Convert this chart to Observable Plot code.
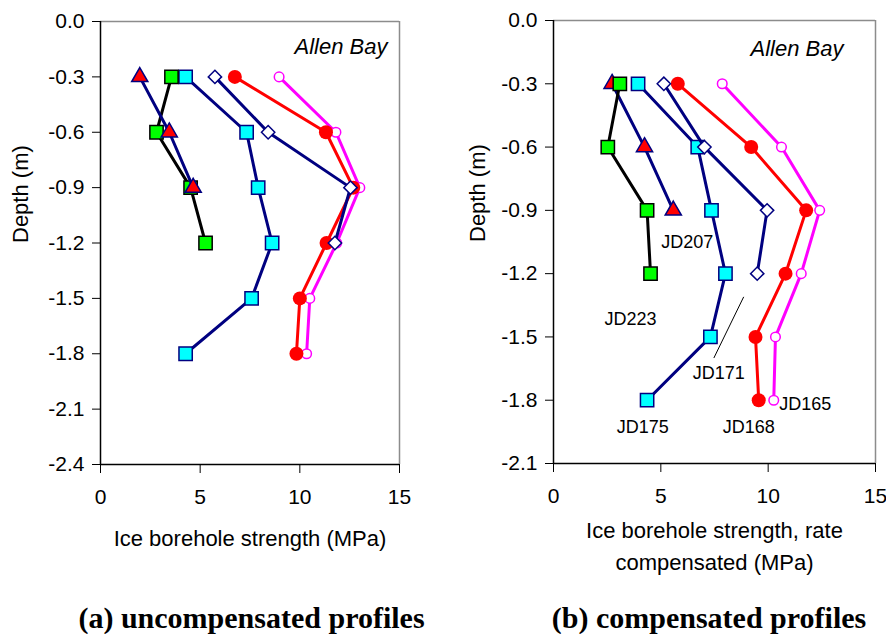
<!DOCTYPE html>
<html>
<head>
<meta charset="utf-8">
<script src="https://cdn.jsdelivr.net/npm/d3@7"></script>
<script src="https://cdn.jsdelivr.net/npm/@observablehq/plot@0.6"></script>
<style>
  html, body { margin: 0; padding: 0; background: white; }
  #root { position: relative; width: 886px; height: 634px; overflow: hidden; background: white; }
  .panel { position: absolute; top: 0; }
  .caption { position: absolute; top: 602px; font-family: "Liberation Serif", "Times New Roman", serif; font-weight: bold; font-size: 30px; line-height: 32px; text-align: center; color: black; white-space: nowrap; }
</style>
</head>
<body>
<div id="root">
  <div id="pa" class="panel" style="left:0px"></div>
  <div id="pb" class="panel" style="left:443px"></div>
  <div class="caption" style="left:0px;width:503px">(a) uncompensated profiles</div>
  <div class="caption" style="left:532px;width:354px">(b) compensated profiles</div>
</div>
<script>
// ---- data ----
const depths = [-0.3, -0.6, -0.9, -1.2, -1.5, -1.8];
const seriesNames = ["JD165", "JD168", "JD171", "JD175", "JD207", "JD223"];

// (a) uncompensated strength (MPa)
const uncompJD165 = [8.96, 11.81, 13.01, 11.85, 10.5, 10.34];
const uncompJD168 = [6.74, 11.31, 12.68, 11.34, 10.0, 9.83];
const uncompJD171 = [5.74, 8.41, 12.54, 11.76];
const uncompJD175 = [4.27, 7.33, 7.91, 8.61, 7.58, 4.27];
const uncompJD207 = [1.97, 3.45, 4.65];
const uncompJD223 = [3.56, 2.81, 4.52, 5.27];

// (b) rate-compensated strength (MPa)
const compJD165 = [7.86, 10.62, 12.40, 11.54, 10.34, 10.26];
const compJD168 = [5.79, 9.21, 11.77, 10.81, 9.41, 9.56];
const compJD171 = [5.14, 7.03, 9.95, 9.49];
const compJD175 = [3.94, 6.72, 7.36, 8.01, 7.31, 4.36];
const compJD207 = [2.73, 4.24, 5.58];
const compJD223 = [3.09, 2.53, 4.36, 4.52];

// axis ticks
const xTicks = [0, 5, 10, 15];
const yTicksA = [0, -0.3, -0.6, -0.9, -1.2, -1.5, -1.8, -2.1, -2.4];
const yTicksB = [0, -0.3, -0.6, -0.9, -1.2, -1.5, -1.8, -2.1];

// series labels in panel (b)
const labelNames = ["JD207", "JD223", "JD171", "JD175", "JD168", "JD165"];
const labelX = [6.23, 3.59, 7.70, 4.16, 9.10, 11.73];
const labelY = [-1.05, -1.415, -1.67, -1.93, -1.93, -1.82];
// leader line for JD171
const leaderX = [8.86, 7.47];
const leaderY = [-1.31, -1.60];

// ---- styles ----
const styles = {
  JD165: {line: "#ff00ff", symbol: "circle", r: 4.8, fill: "white", stroke: "#ff00ff"},
  JD168: {line: "#ff0000", symbol: "circle", r: 7, fill: "#ff0000", stroke: "none"},
  JD171: {line: "#000080", symbol: "diamond2", r: 6, fill: "white", stroke: "#000080"},
  JD175: {line: "#000080", symbol: "square", r: 7.5, fill: "#00ffff", stroke: "#000080"},
  JD207: {line: "#000080", symbol: "triangle", r: 6, fill: "#ff0000", stroke: "#000080"},
  JD223: {line: "#000000", symbol: "square", r: 7.5, fill: "#00ff00", stroke: "#000000"}
};

function toRows(values) {
  return values.map((v, i) => ({x: v, y: depths[i]}));
}

function seriesMarks(seriesMap, order) {
  const marks = [];
  for (const name of order) {
    const rows = toRows(seriesMap[name]);
    const s = styles[name];
    marks.push(Plot.line(rows, {x: "x", y: "y", stroke: s.line, strokeWidth: 3}));
    marks.push(Plot.dot(rows, {x: "x", y: "y", symbol: s.symbol, r: s.r, fill: s.fill,
      stroke: s.stroke, strokeWidth: 1.5}));
  }
  return marks;
}

function panel({width, marginLeft, marginRight, marginTop, marginBottom, yMin, yTicks,
                seriesMap, order, xLabel, xLabelDy, yLabelDx, bayDx, bayDy, extra}) {
  return Plot.plot({
    width, height: 590, marginLeft, marginRight, marginTop, marginBottom,
    style: {fontFamily: "'Liberation Sans', Arial, sans-serif", fontSize: "21px", background: "white", color: "black"},
    x: {domain: [0, 15]},
    y: {domain: [yMin, 0]},
    marks: [
      Plot.ruleX([15], {stroke: "#8c8c8c", strokeWidth: 1.5}),
      Plot.ruleY([0], {stroke: "#8c8c8c", strokeWidth: 1.5}),
      Plot.ruleX([0], {stroke: "black", strokeWidth: 1.5}),
      Plot.ruleY([yMin], {stroke: "black", strokeWidth: 1.5}),
      Plot.axisX({ticks: xTicks, tickSize: 9, tickPadding: 16, label: null, fontSize: 21, tickFormat: d => String(d)}),
      Plot.axisY({ticks: yTicks, tickSize: 8, tickPadding: 8, label: null, fontSize: 21, tickFormat: d => d.toFixed(1)}),
      Plot.text([xLabel], {frameAnchor: "bottom", dy: xLabelDy, fontSize: 22, lineAnchor: "top", lineHeight: 1.45}),
      Plot.text(["Depth (m)"], {frameAnchor: "left", dx: yLabelDx, rotate: -90, fontSize: 22}),
      Plot.text(["Allen Bay"], {frameAnchor: "top-right", dx: bayDx, dy: bayDy, textAnchor: "end", fontStyle: "italic", fontSize: 22}),
      ...seriesMarks(seriesMap, order),
      ...(extra || [])
    ]
  });
}

const mapA = {JD165: uncompJD165, JD168: uncompJD168, JD171: uncompJD171,
              JD175: uncompJD175, JD207: uncompJD207, JD223: uncompJD223};
const mapB = {JD165: compJD165, JD168: compJD168, JD171: compJD171,
              JD175: compJD175, JD207: compJD207, JD223: compJD223};

const plotA = panel({
  width: 443, marginLeft: 100, marginRight: 44, marginTop: 21, marginBottom: 126,
  yMin: -2.4, yTicks: yTicksA, seriesMap: mapA,
  order: ["JD165", "JD168", "JD175", "JD171", "JD223", "JD207"],
  xLabel: "Ice borehole strength (MPa)", xLabelDy: 59, yLabelDx: -80,
  bayDx: -12, bayDy: 17
});

const labels = labelNames.map((t, i) => ({t, x: labelX[i], y: labelY[i]}));
const plotB = panel({
  width: 443, marginLeft: 110, marginRight: 11, marginTop: 20, marginBottom: 127,
  yMin: -2.1, yTicks: yTicksB, seriesMap: mapB,
  order: ["JD165", "JD168", "JD175", "JD171", "JD207", "JD223"],
  xLabel: "Ice borehole strength, rate\ncompensated (MPa)", xLabelDy: 52, yLabelDx: -76,
  bayDx: -32, bayDy: 20,
  extra: [
    Plot.link([0], {x1: () => leaderX[0], y1: () => leaderY[0], x2: () => leaderX[1], y2: () => leaderY[1], stroke: "black", strokeWidth: 1}),
    Plot.text(labels, {x: "x", y: "y", text: "t", fontSize: 18, fill: "black"})
  ]
});

document.getElementById("pa").appendChild(plotA);
document.getElementById("pb").appendChild(plotB);
</script>
</body>
</html>
